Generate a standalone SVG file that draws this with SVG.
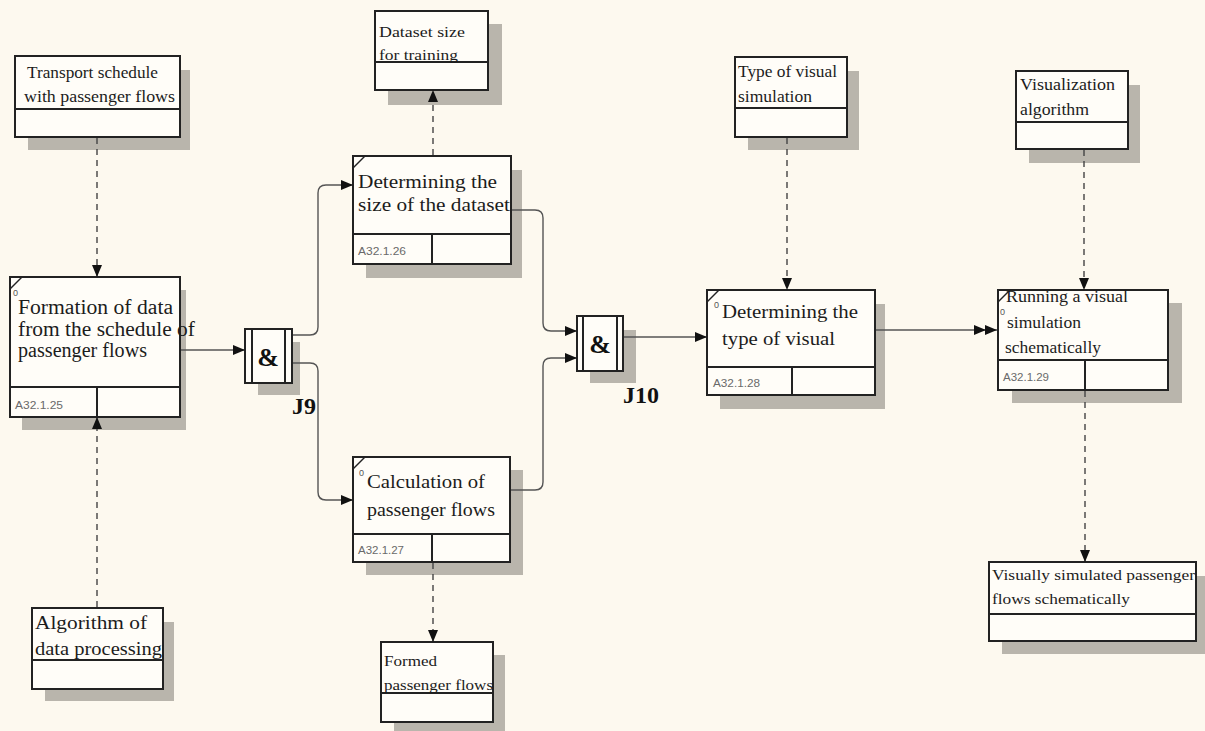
<svg xmlns="http://www.w3.org/2000/svg" width="1205" height="731" viewBox="0 0 1205 731">
<defs>
<marker id="ah" markerUnits="userSpaceOnUse" markerWidth="12" markerHeight="10" refX="11" refY="5" orient="auto"><path d="M0,0 L12,5 L0,10 Z" fill="#111"/></marker>
<marker id="ah2" markerUnits="userSpaceOnUse" markerWidth="24" markerHeight="10" refX="23" refY="5" orient="auto"><path d="M0,0 L12,5 L0,10 Z M11,0 L23,5 L11,10 Z" fill="#111"/></marker>
<style>
.bg{fill:#fdf9ef}
.sh{fill:#b9b5ac}
.bx{fill:#fffdf8;stroke:#222;stroke-width:2}
.ln{stroke:#222;stroke-width:2;fill:none}
.tk{stroke:#222;stroke-width:1.4}
.t{font-family:"Liberation Serif","Times New Roman",serif;fill:#1c1c1c}
.id{font-family:"Liberation Sans",Arial,sans-serif;font-size:11px;fill:#6a6a6a}
.z{font-family:"Liberation Sans",Arial,sans-serif;font-size:9px;fill:#555}
.j{font-family:"Liberation Serif","Times New Roman",serif;font-weight:bold;fill:#111}
.c{stroke:#555;stroke-width:1.4;fill:none}
.d{stroke:#444;stroke-width:1.4;fill:none;stroke-dasharray:6,5}
</style>
</defs>
<rect class="bg" x="0" y="0" width="1205" height="731"/>

<g id="transport-schedule">
<rect class="sh" x="28" y="70" width="162" height="80"/>
<rect class="bx" x="15" y="56" width="165" height="81"/>
<line class="ln" x1="15" y1="109" x2="180" y2="109"/>
<text class="t" font-size="16" x="27" y="78" textLength="131" lengthAdjust="spacingAndGlyphs">Transport schedule</text>
<text class="t" font-size="16" x="24" y="102" textLength="151" lengthAdjust="spacingAndGlyphs">with passenger flows</text>
</g>

<g id="formation">
<rect class="sh" x="22" y="290" width="164" height="140"/>
<rect class="bx" x="10" y="277" width="170" height="140"/>
<line class="ln" x1="10" y1="387" x2="180" y2="387"/>
<line class="ln" x1="97" y1="387" x2="97" y2="417"/>
<line class="tk" x1="10" y1="289" x2="22" y2="277"/>
<text class="z" x="13" y="296">0</text>
<text class="t" font-size="20" x="18" y="314" textLength="155" lengthAdjust="spacingAndGlyphs">Formation of data</text>
<text class="t" font-size="20" x="18" y="336" textLength="177" lengthAdjust="spacingAndGlyphs">from the schedule of</text>
<text class="t" font-size="20" x="18" y="357" textLength="129" lengthAdjust="spacingAndGlyphs">passenger flows</text>
<text class="id" x="15" y="409" textLength="48" lengthAdjust="spacingAndGlyphs">A32.1.25</text>
</g>

<g id="algorithm-data">
<rect class="sh" x="45" y="622" width="129" height="79"/>
<rect class="bx" x="32" y="608" width="131" height="81"/>
<line class="ln" x1="32" y1="660" x2="163" y2="660"/>
<text class="t" font-size="19" x="35" y="629" textLength="112" lengthAdjust="spacingAndGlyphs">Algorithm of</text>
<text class="t" font-size="19" x="35" y="655" textLength="127" lengthAdjust="spacingAndGlyphs">data processing</text>
</g>

<g id="j9">
<rect class="sh" x="258" y="342" width="42" height="53"/>
<rect class="bx" x="245" y="329" width="47" height="54"/>
<line class="ln" x1="252" y1="329" x2="252" y2="383"/>
<line class="ln" x1="285" y1="329" x2="285" y2="383"/>
<text class="j" font-size="26" x="268" y="366" text-anchor="middle">&amp;</text>
<text class="j" font-size="24" x="292" y="414">J9</text>
</g>

<g id="dataset-size">
<rect class="sh" x="388" y="24" width="114" height="81"/>
<rect class="bx" x="375" y="11" width="113" height="79"/>
<line class="ln" x1="375" y1="62" x2="488" y2="62"/>
<text class="t" font-size="15" x="379" y="37" textLength="86" lengthAdjust="spacingAndGlyphs">Dataset size</text>
<text class="t" font-size="15" x="379" y="60" textLength="79" lengthAdjust="spacingAndGlyphs">for training</text>
</g>

<g id="determining-size">
<rect class="sh" x="366" y="170" width="156" height="108"/>
<rect class="bx" x="353" y="156" width="158" height="108"/>
<line class="ln" x1="353" y1="234" x2="511" y2="234"/>
<line class="ln" x1="432" y1="234" x2="432" y2="264"/>
<line class="tk" x1="353" y1="168" x2="365" y2="156"/>
<text class="t" font-size="19" x="358" y="188" textLength="139" lengthAdjust="spacingAndGlyphs">Determining the</text>
<text class="t" font-size="19" x="358" y="211" textLength="152" lengthAdjust="spacingAndGlyphs">size of the dataset</text>
<text class="id" x="358" y="255" textLength="48" lengthAdjust="spacingAndGlyphs">A32.1.26</text>
</g>

<g id="calculation">
<rect class="sh" x="366" y="470" width="157" height="105"/>
<rect class="bx" x="353" y="457" width="157" height="105"/>
<line class="ln" x1="353" y1="534" x2="510" y2="534"/>
<line class="ln" x1="432" y1="534" x2="432" y2="562"/>
<line class="tk" x1="353" y1="469" x2="365" y2="457"/>
<text class="z" x="359" y="476">0</text>
<text class="t" font-size="19" x="367" y="488" textLength="118" lengthAdjust="spacingAndGlyphs">Calculation of</text>
<text class="t" font-size="19" x="367" y="516" textLength="128" lengthAdjust="spacingAndGlyphs">passenger flows</text>
<text class="id" x="358" y="554" textLength="46" lengthAdjust="spacingAndGlyphs">A32.1.27</text>
</g>

<g id="formed-flows">
<rect class="sh" x="394" y="655" width="111" height="76"/>
<rect class="bx" x="381" y="642" width="112" height="80"/>
<line class="ln" x1="381" y1="693" x2="493" y2="693"/>
<text class="t" font-size="15" x="384" y="666" textLength="53" lengthAdjust="spacingAndGlyphs">Formed</text>
<text class="t" font-size="15" x="384" y="690" textLength="109" lengthAdjust="spacingAndGlyphs">passenger flows</text>
</g>

<g id="j10">
<rect class="sh" x="590" y="330" width="46" height="53"/>
<rect class="bx" x="577" y="316" width="46" height="55"/>
<line class="ln" x1="583" y1="316" x2="583" y2="371"/>
<line class="ln" x1="617" y1="316" x2="617" y2="371"/>
<text class="j" font-size="26" x="600" y="353" text-anchor="middle">&amp;</text>
<text class="j" font-size="24" x="623" y="403">J10</text>
</g>

<g id="type-visual-sim">
<rect class="sh" x="748" y="71" width="111" height="79"/>
<rect class="bx" x="735" y="57" width="112" height="80"/>
<line class="ln" x1="735" y1="108" x2="847" y2="108"/>
<text class="t" font-size="16" x="738" y="77" textLength="99" lengthAdjust="spacingAndGlyphs">Type of visual</text>
<text class="t" font-size="16" x="738" y="102" textLength="74" lengthAdjust="spacingAndGlyphs">simulation</text>
</g>

<g id="determining-type">
<rect class="sh" x="720" y="304" width="165" height="105"/>
<rect class="bx" x="707" y="290" width="168" height="105"/>
<line class="ln" x1="707" y1="367" x2="875" y2="367"/>
<line class="ln" x1="792" y1="367" x2="792" y2="395"/>
<line class="tk" x1="707" y1="302" x2="719" y2="290"/>
<text class="z" x="714" y="308">0</text>
<text class="t" font-size="19" x="722" y="318" textLength="136" lengthAdjust="spacingAndGlyphs">Determining the</text>
<text class="t" font-size="19" x="722" y="345" textLength="113" lengthAdjust="spacingAndGlyphs">type of visual</text>
<text class="id" x="713" y="387" textLength="47" lengthAdjust="spacingAndGlyphs">A32.1.28</text>
</g>

<g id="visualization-alg">
<rect class="sh" x="1029" y="85" width="111" height="78"/>
<rect class="bx" x="1016" y="71" width="112" height="78"/>
<line class="ln" x1="1016" y1="122" x2="1128" y2="122"/>
<text class="t" font-size="16" x="1020" y="90" textLength="95" lengthAdjust="spacingAndGlyphs">Visualization</text>
<text class="t" font-size="16" x="1020" y="115" textLength="69" lengthAdjust="spacingAndGlyphs">algorithm</text>
</g>

<g id="running-visual">
<rect class="sh" x="1012" y="303" width="170" height="100"/>
<rect class="bx" x="998" y="290" width="170" height="100"/>
<line class="ln" x1="998" y1="360" x2="1168" y2="360"/>
<line class="ln" x1="1085" y1="360" x2="1085" y2="390"/>
<line class="tk" x1="998" y1="302" x2="1010" y2="290"/>
<text class="z" font-size="8" x="1000" y="315">0</text>
<text class="t" font-size="16" x="1006" y="302" textLength="122" lengthAdjust="spacingAndGlyphs">Running a visual</text>
<text class="t" font-size="16" x="1007" y="328" textLength="74" lengthAdjust="spacingAndGlyphs">simulation</text>
<text class="t" font-size="16" x="1005" y="353" textLength="96" lengthAdjust="spacingAndGlyphs">schematically</text>
<text class="id" x="1003" y="381" textLength="46" lengthAdjust="spacingAndGlyphs">A32.1.29</text>
</g>

<g id="visually-simulated">
<rect class="sh" x="1002" y="576" width="203" height="78"/>
<rect class="bx" x="989" y="562" width="207" height="79"/>
<line class="ln" x1="989" y1="614" x2="1196" y2="614"/>
<text class="t" font-size="15" x="992" y="580" textLength="203" lengthAdjust="spacingAndGlyphs">Visually simulated passenger</text>
<text class="t" font-size="15" x="992" y="604" textLength="138" lengthAdjust="spacingAndGlyphs">flows schematically</text>
</g>

<g id="connectors">
<path class="d" d="M97,138 V276" marker-end="url(#ah)"/>
<path class="d" d="M97,607 V418" marker-end="url(#ah)"/>
<path class="d" d="M433,155 V91" marker-end="url(#ah)"/>
<path class="d" d="M433,563 V641" marker-end="url(#ah)"/>
<path class="d" d="M787,138 V289" marker-end="url(#ah)"/>
<path class="d" d="M1084,150 V289" marker-end="url(#ah)"/>
<path class="d" d="M1085,391 V561" marker-end="url(#ah)"/>
<path class="c" d="M181,350 H244" marker-end="url(#ah)"/>
<path class="c" d="M293,335 H310 Q318,335 318,327 V193 Q318,185 326,185 H352" marker-end="url(#ah)"/>
<path class="c" d="M293,363 H310 Q318,363 318,371 V492 Q318,500 326,500 H352" marker-end="url(#ah)"/>
<path class="c" d="M512,210 H535 Q543,210 543,218 V323 Q543,331 551,331 H576" marker-end="url(#ah)"/>
<path class="c" d="M511,490 H535 Q543,490 543,482 V366 Q543,358 551,358 H576" marker-end="url(#ah)"/>
<path class="c" d="M624,337 H706" marker-end="url(#ah)"/>
<path class="c" d="M876,330 H997" marker-end="url(#ah2)"/>
</g>
</svg>
